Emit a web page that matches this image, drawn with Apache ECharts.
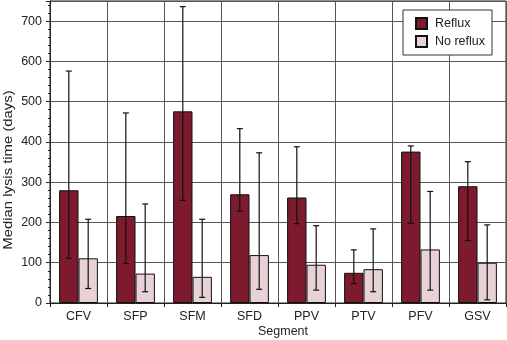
<!DOCTYPE html>
<html>
<head>
<meta charset="utf-8">
<script src="https://cdn.jsdelivr.net/npm/echarts@6/dist/echarts.min.js"></script>
<style>html,body{margin:0;padding:0;background:#fff}#c{width:507px;height:340px}</style>
</head>
<body>
<div id="c"></div>
<script>
const categories = ['CFV','SFP','SFM','SFD','PPV','PTV','PFV','GSV'];
const refluxMedian = [280, 216, 476, 270, 262, 75, 376, 290];
const refluxLow    = [111, 98, 255, 228, 197, 48, 198, 155];
const refluxHigh   = [576, 472, 736, 433, 388, 132, 390, 351];
const noRefluxMedian = [111, 73, 65, 119, 95, 84, 133, 100];
const noRefluxLow    = [36, 28, 14, 34, 32, 28, 32, 8];
const noRefluxHigh   = [208, 246, 208, 373, 192, 184, 277, 194];
const yTicks = [0,100,200,300,400,500,600,700];
const xTitle = 'Segment';
const yTitle = 'Median lysis time (days)';

const FONT = 'Liberation Sans, Arial, sans-serif';
const FS = 12.5;
const BAR_FRAC = 0.34;

function errData(low, high){ return categories.map((c,i)=>[i, low[i], high[i]]); }
function errSeries(name, low, high, side){
  return {
    type:'custom', name: name+'-err', silent:true, z:5,
    data: errData(low, high),
    encode:{x:0, y:[1,2]},
    renderItem: function(params, api){
      const i = api.value(0);
      const lo = api.coord([i, api.value(1)]);
      const hi = api.coord([i, api.value(2)]);
      const band = api.size([1,0])[0];
      const x = lo[0] + side*band*BAR_FRAC/2;
      const cap = 3;
      const st = {stroke:'#111', lineWidth:1.2};
      return {type:'group', children:[
        {type:'line', shape:{x1:x,y1:lo[1],x2:x,y2:hi[1]}, style:st},
        {type:'line', shape:{x1:x-cap,y1:lo[1],x2:x+cap,y2:lo[1]}, style:st},
        {type:'line', shape:{x1:x-cap,y1:hi[1],x2:x+cap,y2:hi[1]}, style:st}
      ]};
    }
  };
}

const chart = echarts.init(document.getElementById('c'));
chart.setOption({
  animation:false,
  textStyle:{fontFamily:FONT},
  grid:{left:50, right:1, top:1, bottom:37, show:true, borderColor:'#222', borderWidth:1,
        containLabel:false, outerBoundsMode:'none'},
  graphic:[
    {type:'text', x:283, y:332, style:{text:xTitle, font:FS+'px '+FONT, fill:'#222', align:'center', verticalAlign:'middle'}},
    {type:'text', x:8, y:170, rotation:Math.PI/2, scaleX:1.1,
     style:{text:yTitle, font:'13.5px '+FONT, fill:'#222', align:'center', verticalAlign:'middle'}}
  ],
  legend:{
    orient:'vertical', left:403, top:10,
    backgroundColor:'#fff', borderColor:'#333', borderWidth:1,
    padding:[7,7,7,12], itemWidth:11, itemHeight:11, itemGap:5,
    icon:'rect',
    textStyle:{fontFamily:FONT, fontSize:FS, color:'#222', lineHeight:11, padding:[0,0,0,3]},
    data:['Reflux','No reflux']
  },
  xAxis:{
    type:'category', data:categories, boundaryGap:true,
    axisLine:{lineStyle:{color:'#222', width:1}},
    axisTick:{show:true, length:4, lineStyle:{color:'#222'}},
    axisLabel:{fontFamily:FONT, fontSize:FS, color:'#222', margin:7},
    splitLine:{show:true, lineStyle:{color:'#555', width:1}}
  },
  yAxis:{
    type:'value', min:0, max:750, interval:100,
    axisLine:{show:true, lineStyle:{color:'#222', width:1}},
    axisTick:{show:true, length:4, lineStyle:{color:'#222'}},
    minorTick:{show:true, splitNumber:5, length:2, lineStyle:{color:'#222'}},
    axisLabel:{fontFamily:FONT, fontSize:FS, color:'#222', margin:8, showMaxLabel:false,
      formatter: v => yTicks.includes(v) ? String(v) : ''},
    splitLine:{show:true, lineStyle:{color:'#555', width:1}}
  },
  series:[
    {type:'bar', name:'Reflux', data:refluxMedian, barWidth:(BAR_FRAC*100)+'%', barGap:'0%',
     itemStyle:{color:'#7d1a2e', borderColor:'#111', borderWidth:1}},
    {type:'bar', name:'No reflux', data:noRefluxMedian, barWidth:(BAR_FRAC*100)+'%', barGap:'0%',
     itemStyle:{color:'#e8d2d6', borderColor:'#111', borderWidth:1}},
    errSeries('Reflux', refluxLow, refluxHigh, -1),
    errSeries('No reflux', noRefluxLow, noRefluxHigh, 1)
  ]
});
</script>
</body>
</html>
